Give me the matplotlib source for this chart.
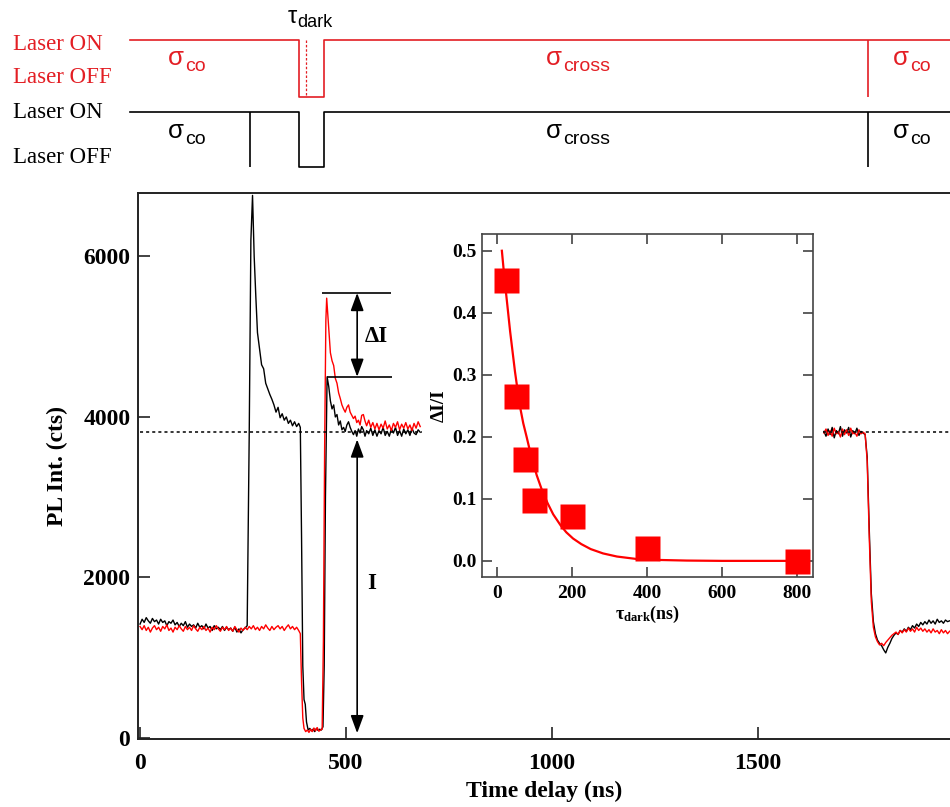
import numpy as np
import matplotlib
matplotlib.use('Agg')
import matplotlib.pyplot as plt

plt.rcParams['font.family'] = 'Liberation Serif'
plt.rcParams['mathtext.fontset'] = 'custom'
plt.rcParams['mathtext.rm'] = 'Liberation Serif'
plt.rcParams['mathtext.bf'] = 'Liberation Serif:bold'
plt.rcParams['mathtext.it'] = 'Liberation Serif:italic'

# ---- PL traces, left part (0-680 ns) ----
# black = reference sequence (no dark gap on co side)
black_t1 = np.concatenate([
    np.arange(0, 260, 5),
    [260, 265, 269, 273, 277, 281, 285],
    np.arange(290, 390, 5),
    [389, 392, 395, 398, 401, 404, 408, 412, 416, 420, 424, 428, 432, 436, 440, 444, 447, 450, 454],
    [458, 462, 466, 470, 474, 478, 482, 486, 490, 494, 498, 502, 506, 510, 514, 518, 522, 526, 530, 534, 538, 542, 546, 550],
    np.arange(555, 685, 5),
])
black_v1 = np.array([
    1420, 1480, 1440, 1500, 1460, 1430, 1490, 1450, 1470, 1420,
    1480, 1440, 1460, 1400, 1450, 1430, 1470, 1410, 1440, 1390,
    1430, 1400, 1450, 1380, 1420, 1390, 1410, 1370, 1430, 1380,
    1400, 1360, 1420, 1370, 1390, 1340, 1400, 1360, 1380, 1350,
    1390, 1340, 1380, 1350, 1370, 1330, 1380, 1320, 1360, 1310,
    1350, 1370,
    1400, 3800, 6200, 6760, 6000, 5500, 5050,
    4850, 4650, 4600, 4420, 4350, 4280, 4220, 4150, 4060, 4120,
    3990, 4040, 3960, 4000, 3920, 3960, 3890, 3940, 3880, 3920,
    3870, 2500, 900, 480, 420, 200, 100, 120, 90, 110,
    80, 120, 95, 110, 100, 140, 900, 3000, 4500,
    4380, 4200, 4100, 4150, 4000, 4030, 3900, 3950, 3840, 3870,
    3820, 3900, 3940, 3870, 3820, 3780, 3830, 3760, 3850, 3800,
    3880, 3840, 3760, 3830,
    3790, 3860, 3770, 3840, 3760, 3830, 3790, 3870, 3770, 3820,
    3760, 3850, 3800, 3870, 3770, 3830, 3760, 3850, 3790, 3840,
    3770, 3860, 3800, 3780, 3840, 3810,
])

# red = sequence with dark gap
red_t1 = np.concatenate([
    np.arange(0, 390, 5),
    [389, 392, 395, 398],
    np.arange(402, 446, 4),
    [445, 448, 451, 453, 456, 459, 462],
    np.arange(466, 554, 4),
    np.arange(555, 685, 5),
])
red_t1 = np.sort(red_t1)
red_v1 = np.array([
    1390, 1350, 1400, 1340, 1380, 1320, 1370, 1400, 1350, 1380,
    1330, 1390, 1360, 1410, 1340, 1370, 1320, 1380, 1350, 1400,
    1360, 1330, 1390, 1350, 1380, 1340, 1400, 1360, 1330, 1380,
    1350, 1390, 1340, 1370, 1320, 1380, 1350, 1400, 1360, 1330,
    1380, 1350, 1390, 1340, 1370, 1330, 1390, 1350, 1320, 1370,
    1340, 1380, 1350, 1390, 1360, 1400, 1350, 1380, 1340, 1390,
    1360, 1410, 1370, 1340, 1390, 1350, 1380, 1400, 1360, 1390,
    1340, 1380, 1410, 1360, 1390, 1350, 1380, 1340,
    1300, 700, 250, 120,
    80, 100, 70, 110, 80, 125, 90, 130, 85, 100, 110,
    1200, 3600, 5200, 5480, 5250, 5000, 4800,
    4700, 4640, 4480, 4420, 4300, 4230, 4150, 4100, 4060, 4120,
    4150, 4060, 4020, 3980, 4010, 3930, 3960, 3900, 4020, 4030,
    3950, 3890,
    3960, 3870, 3930, 3850, 3920, 3840, 3910, 3860, 3950, 3850,
    3900, 3830, 3920, 3870, 3940, 3840, 3910, 3860, 3930, 3850,
    3900, 3830, 3920, 3860, 3940, 3880,
])

# ---- PL traces, right part (1660-1965 ns) ----
t2 = np.concatenate([
    np.arange(1660, 1760, 5),
    np.arange(1760, 1835, 5),
    np.arange(1835, 1970, 5),
])
black_v2 = np.array([
    3820, 3760, 3850, 3780, 3870, 3740, 3830, 3790, 3880, 3760,
    3840, 3800, 3870, 3750, 3830, 3790, 3860, 3770, 3820, 3800,
    3780, 3500, 2600, 1800, 1450, 1300, 1220, 1180, 1150, 1100,
    1060, 1130, 1180, 1240, 1280,
    1310, 1290, 1340, 1320, 1360, 1330, 1380, 1350, 1400, 1370,
    1420, 1390, 1440, 1410, 1450, 1420, 1470, 1430, 1460, 1420,
    1480, 1440, 1460, 1430, 1470, 1450, 1460,
])
red_v2 = np.array([
    3800, 3850, 3770, 3830, 3760, 3860, 3790, 3820, 3750, 3850,
    3780, 3840, 3770, 3860, 3790, 3810, 3760, 3840, 3790, 3810,
    3790, 3450, 2500, 1700, 1380, 1260, 1200, 1160, 1180, 1150,
    1190, 1220, 1250, 1280, 1300,
    1320, 1290, 1340, 1310, 1350, 1320, 1370, 1330, 1360, 1320,
    1380, 1340, 1370, 1330, 1360, 1320, 1350, 1310, 1360, 1320,
    1340, 1300, 1350, 1310, 1340, 1300, 1330,
])

# annotation levels (cts) and times (ns)
I_level = 3813
dI_top = 5545
dI_bottom = 4500
I_bottom = 60
arrow_t = 527

# ---- inset data ----
tau_dark = [25, 50, 75, 100, 200, 400, 800]
dI_ratio = [0.453, 0.266, 0.165, 0.098, 0.073, 0.021, 0.0]
fit_t = [13, 20, 28, 35, 42, 48, 55, 61, 70, 79, 90, 106, 120, 135, 150, 170, 185, 203,
         225, 250, 283, 320, 373, 430, 506, 600, 800]
fit_v = [0.50, 0.455, 0.41, 0.37, 0.335, 0.305, 0.275, 0.25, 0.222, 0.20, 0.172, 0.138,
         0.114, 0.093, 0.075, 0.057, 0.046, 0.036, 0.027, 0.019, 0.012, 0.007, 0.003,
         0.0015, 0.0005, 0.0, 0.0]

# ---- timing diagram ----
laser_t = [-24, 385, 385, 447, 447, 1966]
laser_state = [1, 1, 0, 0, 1, 1]
switch_red = [1767]
switch_black = [267, 1767]
tau_mark = [403]

RED = '#e31e24'
W, H = 950, 807


def fx(px):
    return px / W


def fy(py):
    return 1 - py / H


fig = plt.figure(figsize=(9.5, 8.07), dpi=100)

# main axes
ax = fig.add_axes([fx(138), fy(739), fx(950) - fx(138), fy(193) - fy(739)])
ax.plot(np.concatenate([black_t1, [np.nan], t2]), np.concatenate([black_v1, [np.nan], black_v2]),
        color='black', lw=1.0)
ax.plot(np.concatenate([red_t1, [np.nan], t2]), np.concatenate([red_v1, [np.nan], red_v2]),
        color='red', lw=1.0)
ax.hlines([I_level, I_level], [0, 1658], [684, 1966], colors='black', linestyles=(0, (2, 2)), lw=1.1)
ax.hlines(dI_top, 442, 610, colors='black', lw=1.2)
ax.hlines(dI_bottom, 454, 612, colors='black', lw=1.2)
aprops = dict(arrowstyle='<|-|>,head_length=0.6,head_width=0.22', color='black', lw=1.2,
              shrinkA=0, shrinkB=0, mutation_scale=18)
ax.annotate('', xy=(arrow_t, dI_top), xytext=(arrow_t, dI_bottom), arrowprops=aprops)
ax.annotate('', xy=(arrow_t, 3720), xytext=(arrow_t, I_bottom), arrowprops=aprops)
ax.text(573, 4997, 'ΔI', fontsize=16.5, fontweight='bold', ha='center', va='center')
ax.text(563, 1931, 'I', fontsize=16.5, fontweight='bold', ha='center', va='center')

ax.set_xlim(-5, 1966)
ax.set_ylim(-12, 6790)
ax.set_xticks([0, 500, 1000, 1500])
ax.set_yticks([0, 2000, 4000, 6000])
ax.tick_params(direction='in', length=8.5, width=1.2, labelsize=17, color='#222222')
ax.tick_params(axis='x', pad=10)
ax.tick_params(axis='y', pad=5.5)
for lbl in ax.get_xticklabels() + ax.get_yticklabels():
    lbl.set_fontweight('bold')
ax.spines['right'].set_visible(False)
for s in ['left', 'bottom', 'top']:
    ax.spines[s].set_linewidth(1.4)
    ax.spines[s].set_color('#222222')
ax.set_xlabel('Time delay (ns)', fontsize=17, fontweight='bold', labelpad=5)
ax.set_ylabel('PL Int. (cts)', fontsize=17, fontweight='bold', labelpad=11)

# inset
ins = fig.add_axes([fx(482), fy(577), fx(813) - fx(482), fy(234) - fy(577)])
ins.plot(fit_t, fit_v, color='red', lw=1.6)
ins.plot(tau_dark, dI_ratio, 's', color='red', ms=18, mec='none', clip_on=False, zorder=3)
ins.set_xlim(-40, 843)
ins.set_ylim(-0.026, 0.527)
ins.set_xticks([0, 200, 400, 600, 800])
ins.set_yticks([0.0, 0.1, 0.2, 0.3, 0.4, 0.5])
ins.set_yticklabels(['0.0', '0.1', '0.2', '0.3', '0.4', '0.5'])
ins.tick_params(direction='in', length=7, width=1.1, labelsize=14, top=True, right=True,
                color='#333333')
ins.tick_params(axis='x', pad=6)
ins.tick_params(axis='y', pad=4)
for lbl in ins.get_xticklabels() + ins.get_yticklabels():
    lbl.set_fontweight('bold')
for s in ins.spines.values():
    s.set_linewidth(1.2)
    s.set_color('#444444')
ins.set_ylabel('ΔI/I', fontsize=14, fontweight='bold', labelpad=3)
ins.set_xlabel(r'$\mathbf{\tau_{dark}}$(ns)', fontsize=13, fontweight='bold', labelpad=1)

# timing diagram
dax = fig.add_axes([fx(138), fy(185), fx(950) - fx(138), fy(0) - fy(185)])
dax.set_xlim(ax.get_xlim())
dax.set_ylim(185, 0)
dax.axis('off')
state = np.array(laser_state)
dax.plot(laser_t, np.where(state == 1, 40, 97), color=RED, lw=1.2, clip_on=False)
dax.plot(laser_t, np.where(state == 1, 112, 167), color='black', lw=1.2, clip_on=False)
dax.vlines(switch_red, 40, 97, color=RED, lw=1.2)
dax.vlines(switch_black, 112, 167, color='black', lw=1.2)
dax.vlines(tau_mark, 40, 97, color=RED, lw=0.9, linestyles=(0, (2, 1.5)))

for txt, y, c in [('Laser ON', 50, RED), ('Laser OFF', 83, RED),
                  ('Laser ON', 118, 'black'), ('Laser OFF', 163, 'black')]:
    fig.text(fx(13), fy(y), txt, color=c, fontsize=16.5, ha='left', va='baseline')

renderer = fig.canvas.get_renderer()


def sym(x, y, main, sub, color, size=18.5, subsize=14, drop=6, gap=1):
    t = fig.text(fx(x), fy(y), main, color=color, fontsize=size, family='Liberation Sans',
                 ha='left', va='baseline')
    bb = t.get_window_extent(renderer=renderer)
    fig.text((bb.x1 + gap) / W, fy(y + drop), sub, color=color, fontsize=subsize,
             family='Liberation Sans', ha='left', va='baseline')


sym(168, 65, 'σ', 'co', RED)
sym(546, 65, 'σ', 'cross', RED)
sym(893, 65, 'σ', 'co', RED)
sym(168, 138, 'σ', 'co', 'black')
sym(546, 138, 'σ', 'cross', 'black')
sym(893, 138, 'σ', 'co', 'black')
sym(288, 23, 'τ', 'dark', 'black', size=17, subsize=13, drop=4, gap=0)

fig.savefig('out.png', dpi=100)
